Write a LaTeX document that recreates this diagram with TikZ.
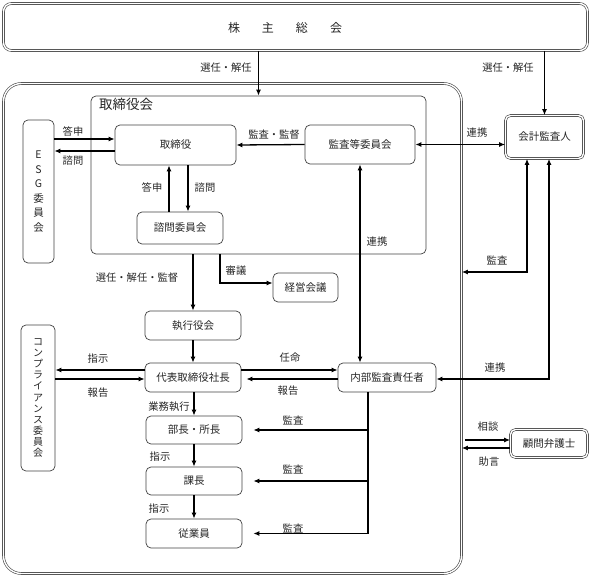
\documentclass[tikz,border=0pt]{standalone}
\usepackage{fontspec}
\newfontfamily\jp{Noto Sans CJK JP}
\usetikzlibrary{arrows.meta,calc}
\begin{document}
\begin{tikzpicture}[x=1pt,y=-1pt,
  box/.style={draw=black!75, rounded corners=5pt, line width=0.7pt, inner sep=0pt, font=\jp\fontsize{10.5}{12}\selectfont, text=black!85},
  dbox/.style={box, double, double distance=1.4pt, line width=0.6pt},
  lab/.style={font=\jp\fontsize{10.3}{12}\selectfont, text=black!85, inner sep=0pt},
  ln/.style={line width=1.3pt, draw=black},
  arr/.style={ln, -{Latex[length=6pt,width=5pt]}},
  darr/.style={ln, {Latex[length=6pt,width=5pt]}-{Latex[length=6pt,width=5pt]}},
]
\useasboundingbox (0,0) rectangle (591,577);
% boxes
\node[dbox, rounded corners=8pt, minimum width=584pt, minimum height=47pt] (sh) at (295.5,27) {};
\node[font=\jp\fontsize{12}{14}\selectfont, text=black!85] (shl) at (285,28) {株\hspace{22pt}主\hspace{22pt}総\hspace{22pt}会};
\node[dbox, rounded corners=18pt, minimum width=458pt, minimum height=490pt] (big) at (232.5,328.5) {};
\node[box, minimum width=335pt, minimum height=158pt] (bod) at (258.5,175) {};
\node[font=\jp\fontsize{13.5}{15}\selectfont, text=black!85, anchor=north west, inner sep=0pt] (bodl) at (99,98) {取締役会};
\node[box, minimum width=121pt, minimum height=40pt] (dir) at (175.5,145) {取締役};
\node[box, minimum width=31pt, minimum height=143pt, align=center, font=\jp\fontsize{10.5}{14.5}\selectfont] (esg) at (38.5,191.5) {E\\S\\G\\委\\員\\会};
\node[box, minimum width=86pt, minimum height=32pt] (adv) at (180,228) {諮問委員会};
\node[box, minimum width=110pt, minimum height=39pt] (ac) at (360,144.5) {監査等委員会};
\node[dbox, minimum width=78pt, minimum height=43pt] (ext) at (544.5,137) {会計監査人};
\node[box, minimum width=65pt, minimum height=29pt] (mgmt) at (305.5,287.5) {経営会議};
\node[box, minimum width=96pt, minimum height=29pt] (exec) at (193,325.5) {執行役会};
\node[box, minimum width=96pt, minimum height=29pt] (pres) at (193,377.5) {代表取締役社長};
\node[box, minimum width=98pt, minimum height=29pt] (ia) at (387,377.5) {内部監査責任者};
\node[box, minimum width=34pt, minimum height=146pt, align=center, font=\jp\fontsize{10}{11.1}\selectfont] (comp) at (38,398) {コ\\ン\\プ\\ラ\\イ\\ア\\ン\\ス\\委\\員\\会};
\node[box, minimum width=96pt, minimum height=28pt] (bu) at (194,430) {部長・所長};
\node[box, minimum width=96pt, minimum height=28pt] (ka) at (194,481) {課長};
\node[box, minimum width=96pt, minimum height=29pt] (emp) at (194,533.5) {従業員};
\node[dbox, minimum width=77pt, minimum height=28pt] (law) at (549,443.5) {顧問弁護士};
% helper coordinates
\coordinate (y139) at (0,139);
\coordinate (y151) at (0,151);
\coordinate (x169) at (169,0);
\coordinate (x188) at (188,0);
\coordinate (x220) at (220,0);
\coordinate (y283) at (0,283);
\coordinate (y370) at (0,370);
\coordinate (y379) at (0,379);
\coordinate (iax) at (368,0);
\coordinate (x527) at (527,0);
\coordinate (x549) at (549,0);
\coordinate (y272) at (0,272);
\coordinate (y440) at (0,440);
\coordinate (y448) at (0,448);
% connectors
\draw[arr] (sh.south -| bod.north) -- (bod.north);
\draw[arr] (ext.north |- sh.south) -- (ext.north);
\draw[arr] (esg.east |- y139) -- (dir.west |- y139);
\draw[arr] (dir.west |- y151) -- (esg.east |- y151);
\draw[arr] (adv.north -| x169) -- (dir.south -| x169);
\draw[arr] (dir.south -| x188) -- (adv.north -| x188);
\draw[arr] (ac.west) -- (dir.east);
\draw[darr] (ac.east) -- (ac.east -| ext.west);
\draw[darr] (ac.south) -- (ac.south |- ia.north);
\draw[arr] (bod.south -| exec.north) -- (exec.north);
\draw[arr] (bod.south -| x220) |- (mgmt.west |- y283);
\draw[arr] (exec.south) -- (pres.north);
\draw[arr] (pres.west |- y370) -- (comp.east |- y370);
\draw[arr] (comp.east |- y379) -- (pres.west |- y379);
\draw[arr] (pres.east |- y370) -- (ia.west |- y370);
\draw[arr, shorten >=5pt] (ia.west |- y379) -- (pres.east |- y379);
\draw[arr] (pres.south -| bu.north) -- (bu.north);
\draw[arr] (bu.south) -- (ka.north);
\draw[arr] (ka.south) -- (emp.north);
\draw[ln] (ia.south -| iax) -- (emp.east -| iax);
\draw[arr, shorten >=11pt] (bu.east -| iax) -- (bu.east);
\draw[arr, shorten >=11pt] (ka.east -| iax) -- (ka.east);
\draw[arr, shorten >=11pt] (emp.east -| iax) -- (emp.east);
\draw[darr] (big.east |- y272) -| (ext.south -| x527);
\draw[darr] (ia.east |- y379) -| (ext.south -| x549);
\draw[arr, shorten <=3pt] (big.east |- y440) -- (law.west |- y440);
\draw[arr] (law.west |- y448) -- (big.east |- y448);
% labels
\node[lab] (l1) at (226,68) {選任・解任};
\node[lab] (l2) at (508,68) {選任・解任};
\node[lab] (l3) at (73,132) {答申};
\node[lab] (l4) at (73,161) {諮問};
\node[lab] (l5) at (152,188) {答申};
\node[lab] (l6) at (205,188) {諮問};
\node[lab] (l7) at (274,135) {監査・監督};
\node[lab] (l8) at (477,133) {連携};
\node[lab] (l9) at (377,242) {連携};
\node[lab] (l10) at (137,278) {選任・解任・監督};
\node[lab] (l11) at (236,271) {審議};
\node[lab] (l12) at (497,260) {監査};
\node[lab] (l13) at (98,359) {指示};
\node[lab] (l14) at (98,393) {報告};
\node[lab] (l15) at (290,358) {任命};
\node[lab] (l16) at (288,391) {報告};
\node[lab] (l17) at (495,368) {連携};
\node[lab] (l18) at (169,407) {業務執行};
\node[lab] (l19) at (160,457) {指示};
\node[lab] (l20) at (159,509) {指示};
\node[lab] (l21) at (293,420) {監査};
\node[lab] (l22) at (293,469) {監査};
\node[lab] (l23) at (293,528) {監査};
\node[lab] (l24) at (488,427) {相談};
\node[lab] (l25) at (489,462) {助言};
\end{tikzpicture}
\end{document}
